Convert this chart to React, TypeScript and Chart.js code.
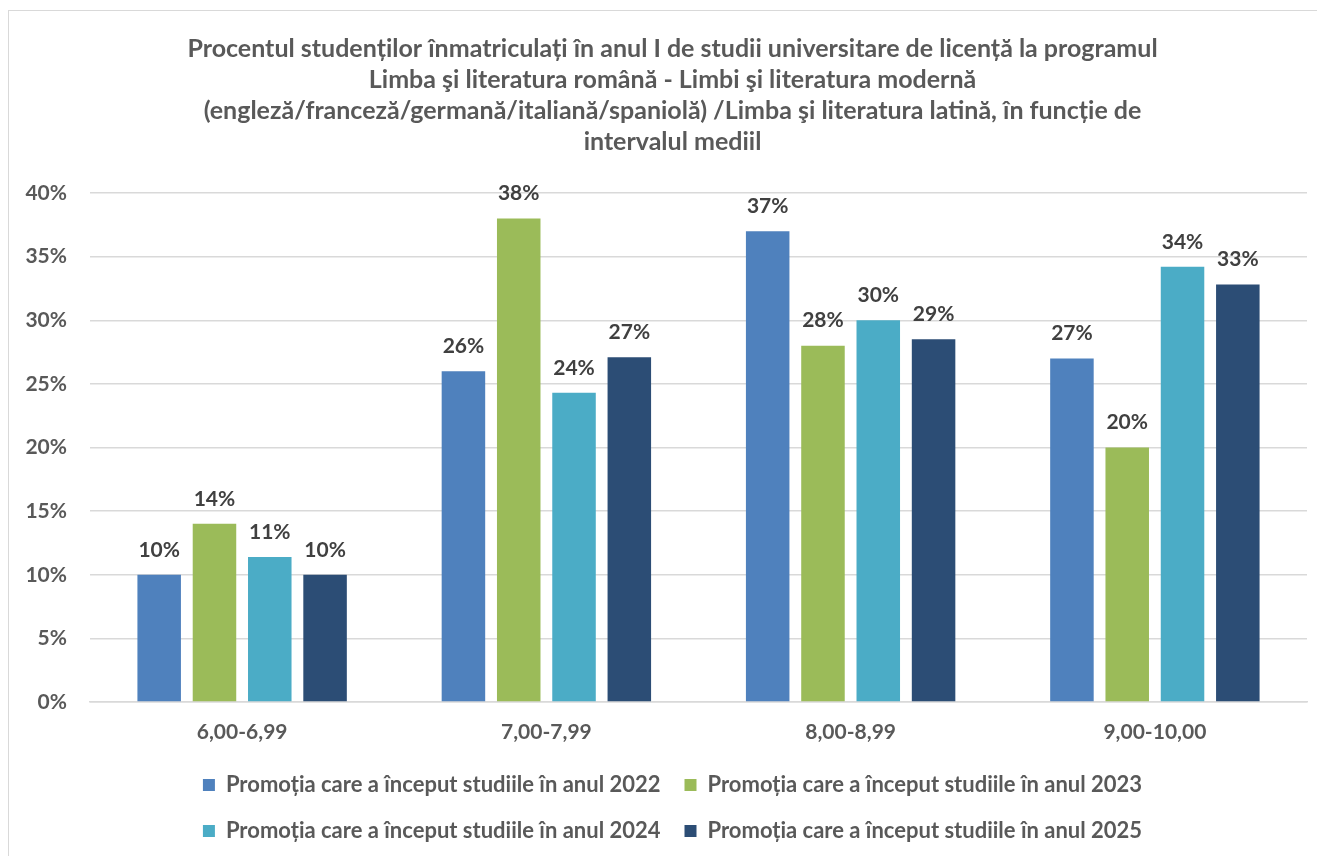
import React, { useEffect, useRef } from "react";
import { Chart, registerables } from "chart.js";

Chart.register(...registerables);

const titleLines = [
  "Procentul studenților înmatriculați în anul I de studii universitare de licență la programul",
  "Limba şi literatura română - Limbi şi literatura modernă",
  "(engleză/franceză/germană/italiană/spaniolă) /Limba şi literatura latină, în funcție de",
  "intervalul mediil",
];

const categories = ["6,00-6,99", "7,00-7,99", "8,00-8,99", "9,00-10,00"];

const seriesNames = [
  "Promoția care a început studiile în anul 2022",
  "Promoția care a început studiile în anul 2023",
  "Promoția care a început studiile în anul 2024",
  "Promoția care a început studiile în anul 2025",
];

const values2022 = [10, 26, 37, 27];
const values2023 = [14, 38, 28, 20];
const values2024 = [11.4, 24.3, 30, 34.2];
const values2025 = [10, 27.1, 28.5, 32.8];

const seriesColors = ["#4F81BD", "#9BBB59", "#4BACC6", "#2C4D75"];

const yMin = 0;
const yMax = 40;
const yStep = 5;

const FONT = "Lato, 'Liberation Sans', Arial, sans-serif";

const dataLabelPlugin = {
  id: "dataLabels",
  afterDatasetsDraw(chart: any) {
    const ctx = chart.ctx;
    ctx.save();
    ctx.font = `bold 21px ${FONT}`;
    ctx.fillStyle = "#404040";
    ctx.textAlign = "center";
    ctx.textBaseline = "middle";
    chart.data.datasets.forEach((ds: any, di: number) => {
      const meta = chart.getDatasetMeta(di);
      meta.data.forEach((el: any, i: number) => {
        const v = ds.data[i];
        ctx.fillText(`${Math.round(v)}%`, el.x, el.y - 25);
      });
    });
    ctx.restore();
  },
};

export default function App() {
  const canvasRef = useRef<HTMLCanvasElement | null>(null);

  useEffect(() => {
    if (!canvasRef.current) return;
    Chart.defaults.font.family = FONT;
    const seriesValues = [values2022, values2023, values2024, values2025];
    const chart = new Chart(canvasRef.current, {
      type: "bar",
      data: {
        labels: categories,
        datasets: seriesNames.map((name, i) => ({
          label: name,
          data: seriesValues[i],
          backgroundColor: seriesColors[i],
          borderWidth: 0,
          categoryPercentage: 0.727,
          barPercentage: 0.787,
          yAxisID: "y",
        })),
      },
      options: {
        animation: false,
        responsive: true,
        maintainAspectRatio: false,
        layout: { padding: { left: 0, right: 0, top: 0, bottom: 4 } },
        plugins: {
          title: {
            display: true,
            text: titleLines,
            color: "#595959",
            font: { size: 25, weight: "bold", family: FONT, lineHeight: 1.24 },
            padding: { top: 22, bottom: 36 },
          },
          legend: {
            position: "bottom",
            labels: {
              boxWidth: 12,
              boxHeight: 12,
              padding: 24,
              color: "#595959",
              font: { size: 22, weight: "bold", family: FONT },
            },
          },
          tooltip: { enabled: false },
        },
        scales: {
          x: {
            grid: { display: false, drawTicks: false },
            border: { display: true, color: "#d9d9d9", width: 1.5 },
            afterFit: (scale: any) => {
              scale.height = 48;
            },
            ticks: {
              color: "#595959",
              padding: 18,
              font: { size: 21, weight: "bold", family: FONT },
            },
          },
          y: {
            min: yMin,
            max: yMax,
            grid: { color: "#d9d9d9", lineWidth: 1.5, drawTicks: false },
            border: { display: false },
            afterFit: (scale: any) => {
              scale.width = 81;
            },
            ticks: {
              stepSize: yStep,
              color: "#595959",
              padding: 23,
              font: { size: 21, weight: "bold", family: FONT },
              callback: (v: any) => `${v}%`,
            },
          },
          spacer: {
            type: "linear",
            position: "right",
            display: true,
            grid: { display: false, drawTicks: false },
            border: { display: false },
            ticks: { display: false },
            afterFit: (scale: any) => {
              scale.width = 29;
            },
          },
        },
      },
      plugins: [dataLabelPlugin],
    });
    return () => chart.destroy();
  }, []);

  return (
    <div style={{ width: 1317, height: 848, overflow: "hidden" }}>
      <div
        style={{
          marginTop: 2,
          width: 1330,
          height: 900,
          border: "1px solid #d9d9d9",
          boxSizing: "border-box",
          background: "#fff",
        }}
      >
        <div style={{ position: "relative", width: 1327, height: 845 }}>
          <canvas ref={canvasRef} />
        </div>
      </div>
    </div>
  );
}
